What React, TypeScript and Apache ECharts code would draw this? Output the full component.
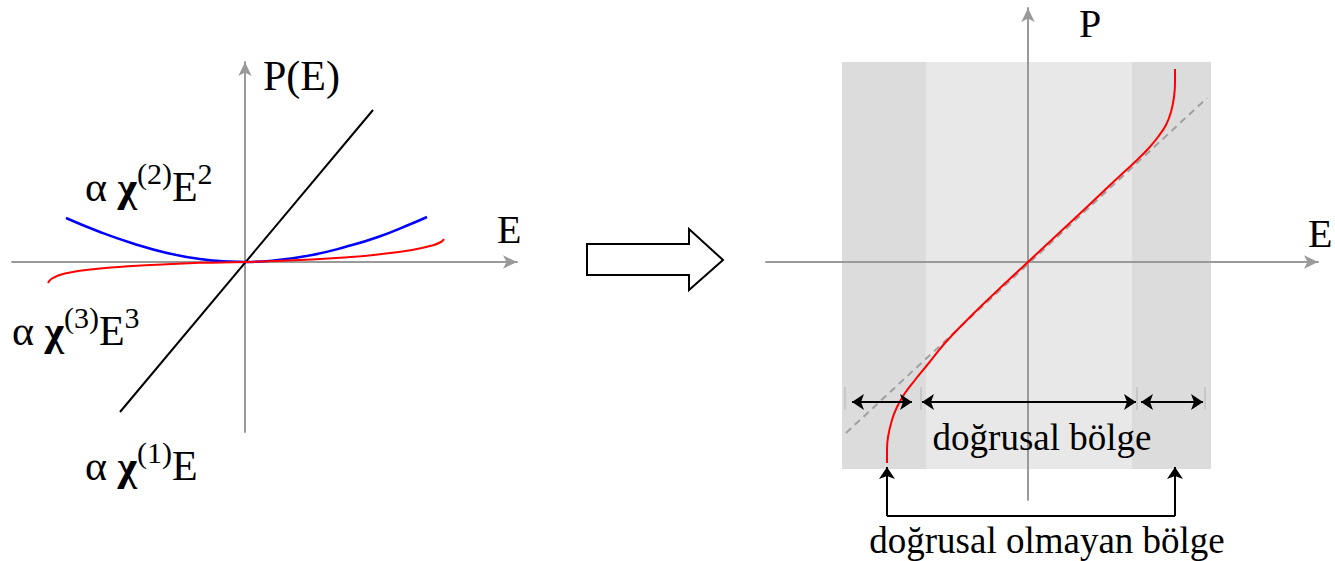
import React, { useEffect, useRef } from "react";
import * as echarts from "echarts";

const FONT = "'Liberation Serif', 'Times New Roman', Times, serif";

// ---------- Left panel (E, P) in arbitrary units ----------
const leftRange = { xMin: -2.33, xMax: 2.72, yMin: -1.7, yMax: 2.0 };
const linearTerm: [number, number][] = [
  [-1.25, -1.5],
  [1.28, 1.52],
];
const quadraticTerm: [number, number][] = [
  [-1.79, 0.44], [-1.45, 0.3], [-1.12, 0.185], [-0.78, 0.09], [-0.45, 0.03],
  [-0.15, 0.004], [0, 0], [0.33, 0.02], [0.67, 0.07], [1.0, 0.15],
  [1.33, 0.25], [1.67, 0.385], [1.82, 0.45],
];
const cubicTerm: [number, number][] = [
  [-1.97, -0.21], [-1.93, -0.165], [-1.8, -0.115], [-1.45, -0.065], [-1.12, -0.04],
  [-0.78, -0.022], [-0.45, -0.008], [0, 0], [0.67, 0.025], [1.0, 0.045],
  [1.33, 0.075], [1.67, 0.12], [1.87, 0.165], [1.96, 0.2], [1.99, 0.23],
];

// ---------- Right panel (E, P) ----------
const rightRange = { xMin: -2.62, xMax: 2.9, yMin: -2.38, yMax: 2.54 };
const responseCurve: [number, number][] = [
  [-1.41, -2.01], [-1.41, -1.88], [-1.4, -1.75], [-1.36, -1.58], [-1.31, -1.45],
  [-1.23, -1.31], [-1.13, -1.18], [-1.0, -1.02], [-0.83, -0.81], [-0.6, -0.57],
  [-0.3, -0.28], [0, 0], [0.3, 0.28], [0.6, 0.56], [0.8, 0.75], [0.95, 0.89],
  [1.08, 1.01], [1.2, 1.13], [1.3, 1.25], [1.38, 1.37], [1.43, 1.5], [1.46, 1.65],
  [1.47, 1.79], [1.47, 1.93],
];
const linearFit: [number, number][] = [
  [-1.82, -1.71],
  [1.79, 1.64],
];
const bandEdges = [-1.86, -1.02, 1.04, 1.83];
const bandP = [-2.07, 2.0];
const regionTicks = [-1.83, -1.07, 1.09, 1.77];
const tickSpan = [-1.25, -1.48];
const arrowLevel = -1.4;
const regionArrows: [number, number][] = [
  [-1.76, -1.16],
  [-1.06, 1.08],
  [1.13, 1.75],
];
const bracketSides = [-1.41, 1.47];
const bracketTip = -2.05;
const bracketBase = -2.54;

// ---------- Texts ----------
type Part = { t: string; sup?: boolean; bold?: boolean };
const termLabels: { parts: Part[]; x: number; y: number }[] = [
  { parts: [{ t: "α " }, { t: "χ", bold: true }, { t: "(2)", sup: true }, { t: "E" }, { t: "2", sup: true }], x: 85, y: 187 },
  { parts: [{ t: "α " }, { t: "χ", bold: true }, { t: "(3)", sup: true }, { t: "E" }, { t: "3", sup: true }], x: 12, y: 331 },
  { parts: [{ t: "α " }, { t: "χ", bold: true }, { t: "(1)", sup: true }, { t: "E" }], x: 85, y: 466 },
];

const makeAxis = (gridIndex: number, min: number, max: number) => ({
  type: "value",
  gridIndex,
  min,
  max,
  z: 1,
  axisLine: {
    show: true,
    onZero: true,
    symbol: ["none", "arrow"],
    symbolSize: [10, 14],
    lineStyle: { color: "#9a9a9a", width: 2 },
  },
  axisTick: { show: false },
  axisLabel: { show: false },
  splitLine: { show: false },
});

const plainText = (text: string, x: number, y: number, size: number, align = "left") => ({
  type: "text",
  x,
  y,
  z: 10,
  style: {
    text,
    fill: "#000",
    font: `${size}px ${FONT}`,
    align,
    verticalAlign: "middle",
  },
});

const measure = (text: string, font: string) => {
  const ctx = document.createElement("canvas").getContext("2d");
  if (!ctx) return text.length * 20;
  ctx.font = font;
  return ctx.measureText(text).width;
};

const buildLabel = (parts: Part[], x: number, y: number) => {
  let cx = x;
  const els: any[] = [];
  for (const p of parts) {
    const size = p.sup ? 30 : 42;
    const font = `${p.bold ? "bold " : ""}${size}px ${FONT}`;
    els.push({
      type: "text",
      x: cx,
      y: p.sup ? y - 14 : y,
      z: 10,
      style: { text: p.t, font, fill: "#000", verticalAlign: "middle" },
    });
    cx += measure(p.t, font);
  }
  return els;
};

export default function App() {
  const ref = useRef<HTMLDivElement>(null);
  useEffect(() => {
    document.body.style.margin = "0";
    document.body.style.overflow = "hidden";
    const chart = echarts.init(ref.current!, null, { renderer: "svg" });
    const blackLines = {
      type: "lines",
      coordinateSystem: "cartesian2d",
      xAxisIndex: 1,
      yAxisIndex: 1,
      clip: false,
      lineStyle: { color: "#000", width: 2, opacity: 1 },
      z: 5,
    };
    const labelEls = termLabels.flatMap((l) => buildLabel(l.parts, l.x, l.y));
    const option: any = {
      animation: false,
      backgroundColor: "#fff",
      grid: [
        { left: 12, right: 818, top: 62, bottom: 129 },
        { left: 766, right: 17, top: 8, bottom: 61 },
      ],
      xAxis: [
        makeAxis(0, leftRange.xMin, leftRange.xMax),
        makeAxis(1, rightRange.xMin, rightRange.xMax),
      ],
      yAxis: [
        makeAxis(0, leftRange.yMin, leftRange.yMax),
        makeAxis(1, rightRange.yMin, rightRange.yMax),
      ],
      series: [
        {
          type: "line",
          xAxisIndex: 0,
          yAxisIndex: 0,
          data: linearTerm,
          showSymbol: false,
          lineStyle: { color: "#000", width: 2 },
          z: 2,
        },
        {
          type: "line",
          xAxisIndex: 0,
          yAxisIndex: 0,
          data: quadraticTerm,
          smooth: 0.5,
          showSymbol: false,
          lineStyle: { color: "#0000ff", width: 2.5 },
          z: 3,
        },
        {
          type: "line",
          xAxisIndex: 0,
          yAxisIndex: 0,
          data: cubicTerm,
          smooth: 0.5,
          showSymbol: false,
          lineStyle: { color: "#ff0000", width: 2 },
          z: 4,
        },
        {
          type: "line",
          xAxisIndex: 1,
          yAxisIndex: 1,
          data: [[0, 0]],
          showSymbol: false,
          lineStyle: { width: 0 },
          z: 0,
          markArea: {
            silent: true,
            z: 0,
            data: [
              [
                { coord: [bandEdges[0], bandP[0]], itemStyle: { color: "#dcdcdc", opacity: 1 } },
                { coord: [bandEdges[1], bandP[1]] },
              ],
              [
                { coord: [bandEdges[1], bandP[0]], itemStyle: { color: "#e8e8e8", opacity: 1 } },
                { coord: [bandEdges[2], bandP[1]] },
              ],
              [
                { coord: [bandEdges[2], bandP[0]], itemStyle: { color: "#dcdcdc", opacity: 1 } },
                { coord: [bandEdges[3], bandP[1]] },
              ],
            ],
          },
        },
        {
          type: "line",
          xAxisIndex: 1,
          yAxisIndex: 1,
          data: linearFit,
          showSymbol: false,
          lineStyle: { color: "#a0a0a0", width: 2, type: [7, 5] },
          z: 2,
        },
        {
          type: "line",
          xAxisIndex: 1,
          yAxisIndex: 1,
          data: responseCurve,
          smooth: 0.4,
          showSymbol: false,
          lineStyle: { color: "#ff0000", width: 2 },
          z: 3,
        },
        {
          type: "lines",
          coordinateSystem: "cartesian2d",
          xAxisIndex: 1,
          yAxisIndex: 1,
          symbol: "none",
          lineStyle: { color: "#c8c8c8", width: 2, opacity: 1 },
          data: regionTicks.map((e) => ({ coords: [[e, tickSpan[0]], [e, tickSpan[1]]] })),
          z: 4,
        },
        {
          ...blackLines,
          symbol: ["arrow", "arrow"],
          symbolSize: 12,
          data: regionArrows.map(([a, b]) => ({ coords: [[a, arrowLevel], [b, arrowLevel]] })),
        },
        {
          ...blackLines,
          symbol: ["none", "arrow"],
          symbolSize: 12,
          data: bracketSides.map((e) => ({ coords: [[e, bracketBase], [e, bracketTip]] })),
        },
        {
          ...blackLines,
          symbol: "none",
          data: [{ coords: [[bracketSides[0], bracketBase], [bracketSides[1], bracketBase]] }],
        },
      ],
      graphic: [
        {
          type: "polygon",
          z: 10,
          shape: {
            points: [
              [587, 244], [689, 244], [689, 229], [723, 260], [689, 290], [689, 275], [587, 275],
            ],
          },
          style: { fill: "#fff", stroke: "#000", lineWidth: 2 },
        },
        plainText("P(E)", 263, 76, 42),
        plainText("E", 497, 229, 40),
        ...labelEls,
        plainText("P", 1079, 23, 40),
        plainText("E", 1308, 233, 40),
        plainText("doğrusal bölge", 1042, 437, 37, "center"),
        plainText("doğrusal olmayan bölge", 1047, 540, 37, "center"),
      ],
    };
    chart.setOption(option);
    return () => chart.dispose();
  }, []);
  return <div ref={ref} style={{ width: 1335, height: 561 }} />;
}
